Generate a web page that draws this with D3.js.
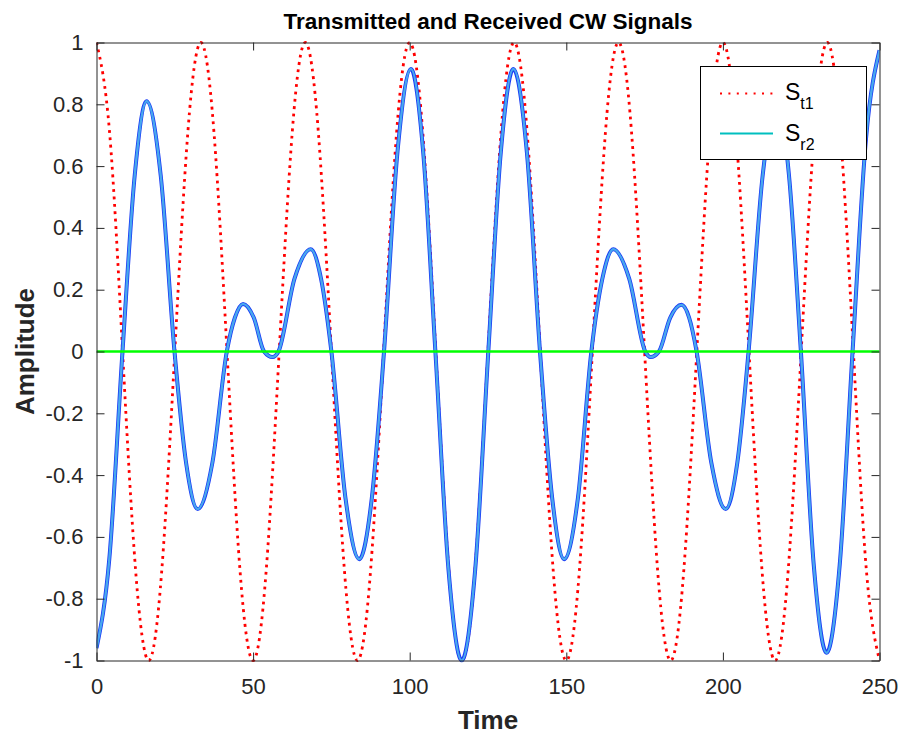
<!DOCTYPE html>
<html>
<head>
<meta charset="utf-8">
<script src="https://cdn.jsdelivr.net/npm/d3@7"></script>
<style>
  body { margin: 0; background: #fff; }
  svg { display: block; font-family: "Liberation Sans", Arial, Helvetica, sans-serif; }
  .tick text { fill: #262626; font-size: 22px; }
  .axis path, .axis line { stroke: #262626; stroke-width: 1; }
</style>
</head>
<body>
<div id="chart"></div>
<script>
var width = 901, height = 735;
var margin = {top: 42.5, right: 21.5, bottom: 74.5, left: 96.5};

// transmitted signal S_t1 (every 1/8 period)
var st1_t = [0, 4.17, 8.33, 12.5, 16.67, 20.83, 25, 29.17, 33.33, 37.5, 41.67, 45.83, 50, 54.17, 58.33, 62.5,
  66.67, 70.83, 75, 79.17, 83.33, 87.5, 91.67, 95.83, 100, 104.17, 108.33, 112.5, 116.67, 120.83, 125, 129.17,
  133.33, 137.5, 141.67, 145.83, 150, 154.17, 158.33, 162.5, 166.67, 170.83, 175, 179.17, 183.33, 187.5, 191.67,
  195.83, 200, 204.17, 208.33, 212.5, 216.67, 220.83, 225, 229.17, 233.33, 237.5, 241.67, 245.83, 250];
var st1_v = [1, .71, 0, -.71, -1, -.71, 0, .71, 1, .71, 0, -.71, -1, -.71, 0, .71,
  1, .71, 0, -.71, -1, -.71, 0, .71, 1, .71, 0, -.71, -1, -.71, 0, .71,
  1, .71, 0, -.71, -1, -.71, 0, .71, 1, .71, 0, -.71, -1, -.71, 0,
  .71, 1, .71, 0, -.71, -1, -.71, 0, .71, 1, .71, 0, -.71, -1];

// received signal S_r2 (extrema, zero crossings and half-way points)
var sr2_t = [0, 4.1, 8.3, 12.2, 16.0, 20.5, 24.9, 28.6, 32.3, 37.0, 41.6, 44.2, 46.8, 50.2, 53.5, 56.2, 58.1,
  63.2, 68.4, 71.7, 75.0, 79.5, 83.9, 87.9, 91.8, 96.1, 100.4, 104.3, 108.2, 112.4, 116.6, 120.9, 125.1,
  129.1, 133.1, 137.4, 141.6, 145.5, 149.3, 153.7, 158.0, 161.5, 165.0, 170.1, 175.2, 176.9, 179.6, 183.2,
  186.8, 189.2, 191.6, 196.3, 200.9, 204.6, 208.2, 212.7, 217.2, 221.1, 224.9, 229.0, 233.1, 237.3, 241.4,
  245.7, 250];
var sr2_v = [-0.96, -0.67, 0, 0.57, 0.81, 0.57, 0, -0.36, -0.51, -0.36, 0, 0.11, 0.154, 0.11, 0, -0.018, 0,
  0.235, 0.331, 0.235, 0, -0.475, -0.672, -0.475, 0, 0.646, 0.914, 0.646, 0, -0.707, -1.0, -0.707, 0,
  0.646, 0.914, 0.646, 0, -0.475, -0.672, -0.475, 0, 0.235, 0.331, 0.235, 0, -0.018, 0, 0.11,
  0.151, 0.11, 0, -0.36, -0.51, -0.36, 0, 0.57, 0.81, 0.57, 0, -0.69, -0.975, -0.69, 0,
  0.69, 0.975];

// zero reference line
var zero_t = [0, 250];
var zero_v = [0, 0];

var xTicks = [0, 50, 100, 150, 200, 250];
var yTicks = [-1, -0.8, -0.6, -0.4, -0.2, 0, 0.2, 0.4, 0.6, 0.8, 1];

var x = d3.scaleLinear().domain([0, 250]).range([margin.left, width - margin.right]);
var y = d3.scaleLinear().domain([-1, 1]).range([height - margin.bottom, margin.top]);

var svg = d3.select("#chart").append("svg")
    .attr("width", width)
    .attr("height", height);

function pairs(ts, vs){
  return ts.map(function(t, i){ return [t, vs[i]]; });
}

var line = d3.line()
    .x(function(d){ return x(d[0]); })
    .y(function(d){ return y(d[1]); });

svg.append("defs").append("clipPath").attr("id", "plot-clip")
  .append("rect")
    .attr("x", margin.left).attr("y", margin.top - 2)
    .attr("width", width - margin.left - margin.right)
    .attr("height", height - margin.top - margin.bottom + 4);

var plot = svg.append("g").attr("clip-path", "url(#plot-clip)");

plot.append("path")
    .attr("d", line.curve(d3.curveNatural)(pairs(st1_t, st1_v)))
    .style("fill", "none")
    .style("stroke", "#ff0000")
    .style("stroke-width", 2.8)
    .style("stroke-dasharray", "2.8,4.6");

var sr2_d = line.curve(d3.curveMonotoneX)(pairs(sr2_t, sr2_v));
plot.append("path")
    .attr("d", sr2_d)
    .style("fill", "none")
    .style("stroke", "#1a3cf5")
    .style("stroke-width", 4);
plot.append("path")
    .attr("d", sr2_d)
    .style("fill", "none")
    .style("stroke", "#48a8ee")
    .style("stroke-width", 2.4);

plot.append("path")
    .attr("d", line.curve(d3.curveLinear)(pairs(zero_t, zero_v)))
    .style("fill", "none")
    .style("stroke", "#00ff00")
    .style("stroke-width", 2.6);

// axes, ticks pointing inward on all four sides
svg.append("g").attr("class", "axis")
    .attr("transform", "translate(0," + (height - margin.bottom) + ")")
    .call(d3.axisBottom(x).tickValues(xTicks).tickSize(-8).tickSizeOuter(0).tickPadding(18));
svg.append("g").attr("class", "axis")
    .attr("transform", "translate(0," + margin.top + ")")
    .call(d3.axisTop(x).tickValues(xTicks).tickSize(-8).tickSizeOuter(0).tickFormat(""));
svg.append("g").attr("class", "axis")
    .attr("transform", "translate(" + margin.left + ",0)")
    .call(d3.axisLeft(y).tickValues(yTicks).tickSize(-8).tickSizeOuter(0).tickPadding(13)
      .tickFormat(function(d){ return String(+d.toFixed(1)); }));
svg.append("g").attr("class", "axis")
    .attr("transform", "translate(" + (width - margin.right) + ",0)")
    .call(d3.axisRight(y).tickValues(yTicks).tickSize(-8).tickSizeOuter(0).tickFormat(""));
svg.selectAll(".axis").attr("font-family", null).attr("font-size", null);

// titles
svg.append("text")
    .attr("x", (margin.left + width - margin.right) / 2)
    .attr("y", 29)
    .attr("text-anchor", "middle")
    .style("font-weight", "bold")
    .style("font-size", "22.5px")
    .style("fill", "#000")
    .text("Transmitted and Received CW Signals");

svg.append("text")
    .attr("x", (margin.left + width - margin.right) / 2)
    .attr("y", 729)
    .attr("text-anchor", "middle")
    .style("font-weight", "bold")
    .style("font-size", "26px")
    .style("fill", "#262626")
    .text("Time");

svg.append("text")
    .attr("transform", "translate(34," + y(0) + ") rotate(-90)")
    .attr("text-anchor", "middle")
    .style("font-weight", "bold")
    .style("font-size", "26px")
    .style("fill", "#262626")
    .text("Amplitude");

// legend
var legend = svg.append("g").attr("class", "legend");
legend.append("rect")
    .attr("x", 700.5).attr("y", 66.5)
    .attr("width", 166).attr("height", 93)
    .style("fill", "#fff")
    .style("stroke", "#000")
    .style("stroke-width", 1);

var legend_items = [
  {name: "S", sub: "t1", color: "#ff0000", dash: "2,6.4", lineY: 93.5, textY: 100},
  {name: "S", sub: "r2", color: "#00bfbf", dash: null, lineY: 133.5, textY: 141}
];

legend_items.forEach(function(d){
  legend.append("line")
      .attr("x1", 720).attr("x2", 773)
      .attr("y1", d.lineY).attr("y2", d.lineY)
      .style("stroke", d.color)
      .style("stroke-width", 2)
      .style("stroke-dasharray", d.dash);
  var t = legend.append("text")
      .attr("x", 785).attr("y", d.textY)
      .style("font-size", "23px")
      .style("fill", "#000");
  t.append("tspan").text(d.name);
  t.append("tspan").attr("dy", 9).style("font-size", "16px").text(d.sub);
});
</script>
</body>
</html>
